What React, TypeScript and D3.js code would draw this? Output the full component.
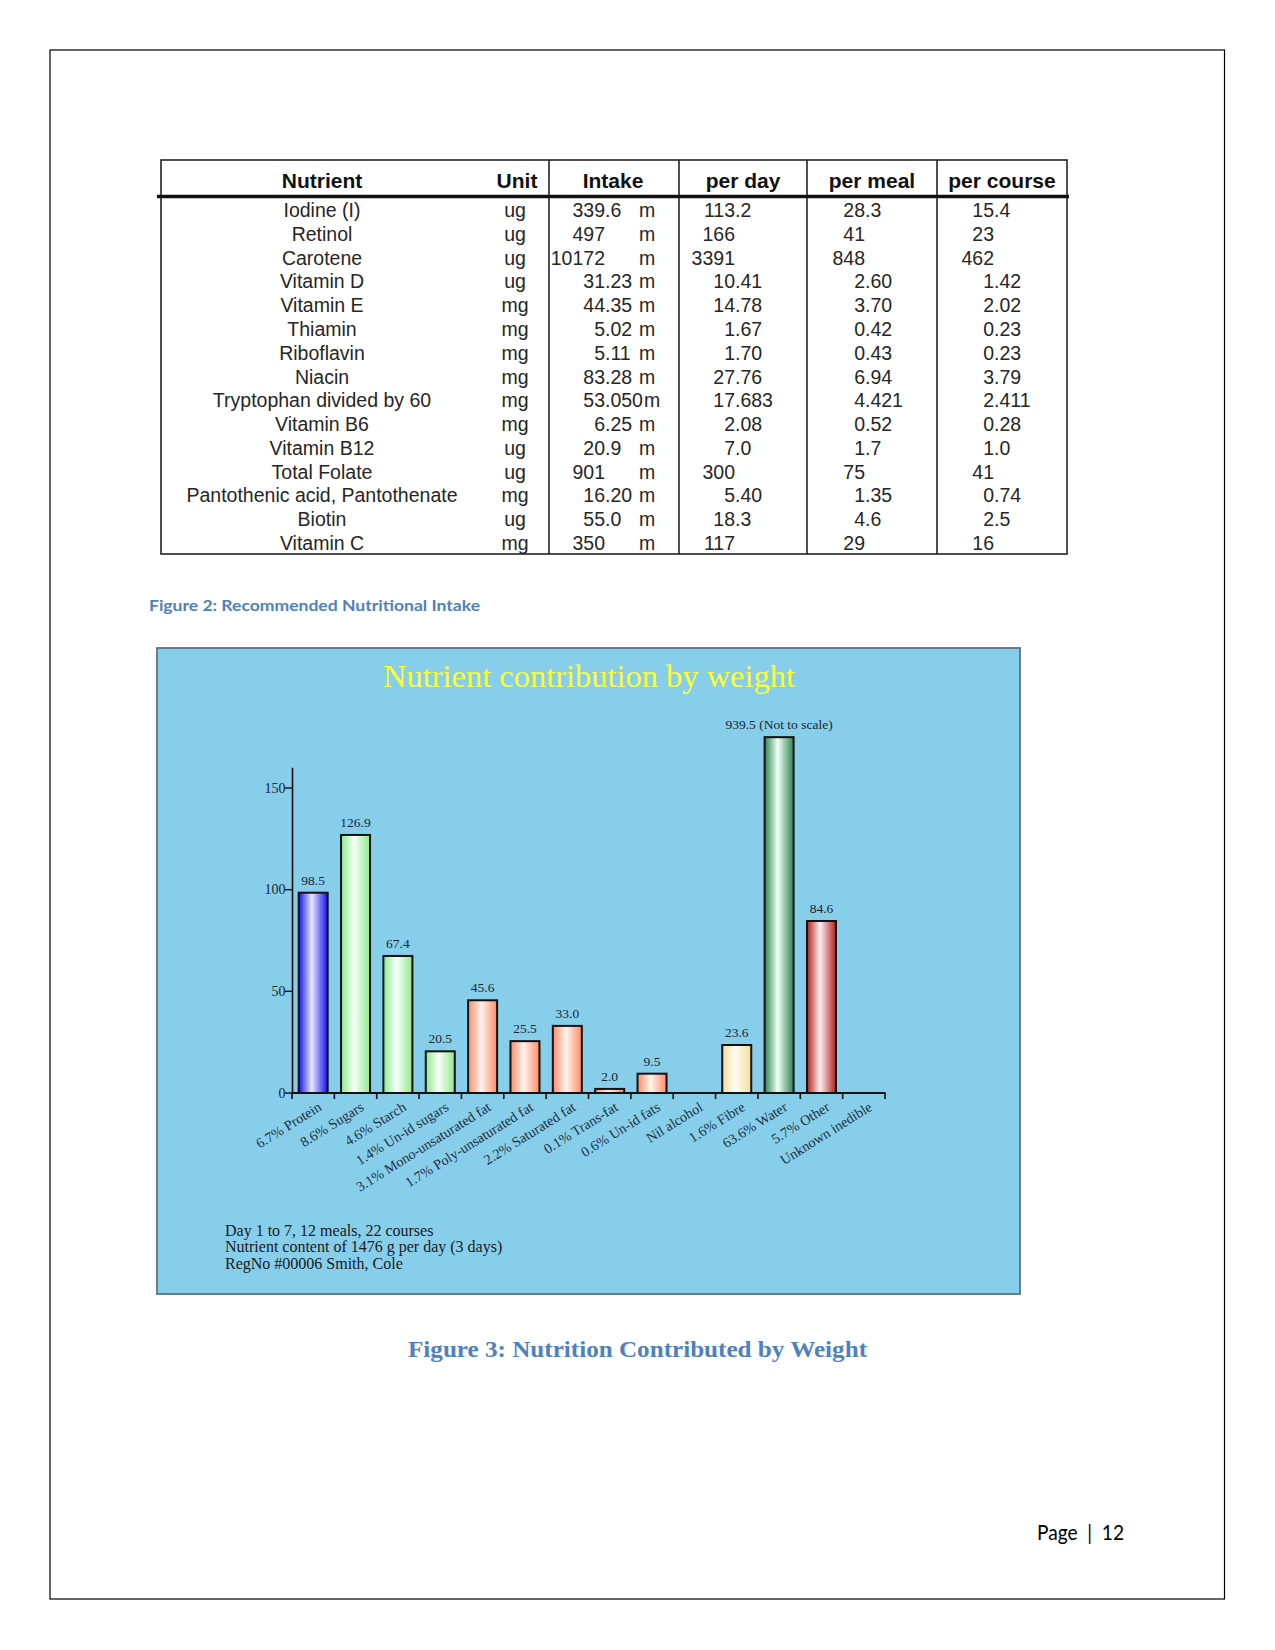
import React from "react";
import * as d3 from "d3";

// ---------- Table data ----------
const tableHeaders = ["Nutrient", "Unit", "Intake", "per day", "per meal", "per course"];
const nutrients = [
  "Iodine (I)", "Retinol", "Carotene", "Vitamin D", "Vitamin E", "Thiamin", "Riboflavin", "Niacin",
  "Tryptophan divided by 60", "Vitamin B6", "Vitamin B12", "Total Folate",
  "Pantothenic acid, Pantothenate", "Biotin", "Vitamin C",
];
const units = ["ug", "ug", "ug", "ug", "mg", "mg", "mg", "mg", "mg", "mg", "ug", "ug", "mg", "ug", "mg"];
const intake = ["339.6", "497", "10172", "31.23", "44.35", "5.02", "5.11", "83.28", "53.050", "6.25", "20.9", "901", "16.20", "55.0", "350"];
const perDay = ["113.2", "166", "3391", "10.41", "14.78", "1.67", "1.70", "27.76", "17.683", "2.08", "7.0", "300", "5.40", "18.3", "117"];
const perMeal = ["28.3", "41", "848", "2.60", "3.70", "0.42", "0.43", "6.94", "4.421", "0.52", "1.7", "75", "1.35", "4.6", "29"];
const perCourse = ["15.4", "23", "462", "1.42", "2.02", "0.23", "0.23", "3.79", "2.411", "0.28", "1.0", "41", "0.74", "2.5", "16"];
const intakeSuffix = "m";

// ---------- Chart data ----------
const chartTitle = "Nutrient contribution by weight";
const categories = [
  "6.7% Protein", "8.6% Sugars", "4.6% Starch", "1.4% Un-id sugars", "3.1% Mono-unsaturated fat",
  "1.7% Poly-unsaturated fat", "2.2% Saturated fat", "0.1% Trans-fat", "0.6% Un-id fats",
  "Nil alcohol", "1.6% Fibre", "63.6% Water", "5.7% Other", "Unknown inedible",
];
const weights: (number | null)[] = [98.5, 126.9, 67.4, 20.5, 45.6, 25.5, 33.0, 2.0, 9.5, null, 23.6, 939.5, 84.6, null];
const groups = ["protein", "carb", "carb", "carb", "fat", "fat", "fat", "fat", "fat", "alcohol", "fibre", "water", "other", "inedible"];
const notToScale = [false, false, false, false, false, false, false, false, false, false, false, true, false, false];
const notToScaleDrawnValue = 175;
const yTicks = [0, 50, 100, 150];
const yAxisMax = 160;
const footnotes = [
  "Day 1 to 7, 12 meals, 22 courses",
  "Nutrient content of 1476 g per day (3 days)",
  "RegNo #00006 Smith, Cole",
];
const fig2Caption = "Figure 2: Recommended Nutritional Intake";
const fig3Caption = "Figure 3: Nutrition Contributed by Weight";
const pageLabel = "Page  |  12";

// ---------- Styles ----------
const SANS = "'Liberation Sans', Arial, sans-serif";
const SERIF = "'Liberation Serif', 'Times New Roman', serif";
const groupColors: Record<string, [string, string]> = {
  protein: ["#1010f0", "#e8e8ff"],
  carb: ["#8ee88e", "#f6fff6"],
  fat: ["#ff8a66", "#fff4ee"],
  fibre: ["#f2dc9c", "#fffdf4"],
  water: ["#2b8552", "#f2fff6"],
  other: ["#ad2020", "#fff0f0"],
  alcohol: ["#cccccc", "#ffffff"],
  inedible: ["#cccccc", "#ffffff"],
};

function DecCell({ value, decX, y }: { value: string; decX: number; y: number }) {
  const [ip, fp] = value.split(".");
  return (
    <>
      <text x={decX} y={y} textAnchor="end">{ip}</text>
      {fp !== undefined && <text x={decX} y={y} textAnchor="start">.{fp}</text>}
    </>
  );
}

export default function App() {
  // Table geometry
  const tL = 161, tR = 1067, tT = 160, tB = 554, headLine = 196.5;
  const colSeps = [549, 679, 807, 937];
  const fs = 19.5;
  const rowY = d3.scaleLinear().domain([0, 14]).range([217, 550]);
  const headerX = [322, 517, 613, 743, 872, 1002];
  const decIntake = 605, decDay = 735, decMeal = 865, decCourse = 994;
  const digitW = 0.556 * fs, dotW = 0.278 * fs;

  // Chart geometry
  const x = d3.scaleBand<string>().domain(categories).range([292, 885]).paddingInner(0).paddingOuter(0);
  const y = d3.scaleLinear().domain([0, 150]).range([1093, 788]);
  const barW = 29;
  const tickPositions = [...categories.map((c) => x(c) as number), 885];

  return (
    <svg width={1275} height={1650} style={{ position: "absolute", left: 0, top: 0, background: "#fff" }}>
      <defs>
        {Object.entries(groupColors).map(([k, [dark, light]]) => (
          <linearGradient key={k} id={`g-${k}`} x1="0" x2="1" y1="0" y2="0">
            <stop offset="0" stopColor={dark} />
            <stop offset="0.45" stopColor={light} />
            <stop offset="1" stopColor={dark} />
          </linearGradient>
        ))}
      </defs>

      {/* Page border */}
      <rect x={50} y={50} width={1174.5} height={1549} fill="none" stroke="#000" strokeWidth={1.2} />

      {/* ---------- Table ---------- */}
      <g fontFamily={SANS}>
        <rect x={tL} y={tT} width={tR - tL} height={tB - tT} fill="none" stroke="#222" strokeWidth={1.6} />
        {colSeps.map((cx) => (
          <line key={cx} x1={cx} x2={cx} y1={tT} y2={tB} stroke="#222" strokeWidth={1.6} />
        ))}
        <line x1={157} x2={1069} y1={headLine} y2={headLine} stroke="#111" strokeWidth={3.6} />
        {tableHeaders.map((h, i) => (
          <text key={h} x={headerX[i]} y={187.5} textAnchor="middle" fontWeight="bold" fontSize={21} fill="#111">{h}</text>
        ))}
        <g fontSize={fs} fill="#262626">
          {nutrients.map((n, i) => {
            const yy = rowY(i);
            const frac = intake[i].split(".")[1];
            const fracEnd = decIntake + (frac ? dotW + frac.length * digitW : 0);
            const mX = Math.max(639, fracEnd + 1);
            return (
              <g key={n}>
                <text x={322} y={yy} textAnchor="middle">{n}</text>
                <text x={515} y={yy} textAnchor="middle">{units[i]}</text>
                <DecCell value={intake[i]} decX={decIntake} y={yy} />
                <text x={mX} y={yy}>{intakeSuffix}</text>
                <DecCell value={perDay[i]} decX={decDay} y={yy} />
                <DecCell value={perMeal[i]} decX={decMeal} y={yy} />
                <DecCell value={perCourse[i]} decX={decCourse} y={yy} />
              </g>
            );
          })}
        </g>
      </g>

      {/* Figure 2 caption */}
      <text x={149} y={611} fontFamily="Lato, 'Open Sans', sans-serif" fontWeight="bold" fontSize={16} fill="#4f81bd"
        textLength={331} lengthAdjust="spacingAndGlyphs">{fig2Caption}</text>

      {/* ---------- Chart ---------- */}
      <rect x={157} y={648} width={863} height={646} fill="#87ceeb" stroke="#5c7282" strokeWidth={1.8} />
      <text x={589} y={687} textAnchor="middle" fontFamily={SERIF} fontSize={32} fill="#ffff2e"
        textLength={412} lengthAdjust="spacingAndGlyphs">{chartTitle}</text>

      {/* Y axis */}
      <g fontFamily={SERIF} fontSize={14} fill="#1a2530">
        <line x1={292.5} x2={292.5} y1={y(yAxisMax)} y2={y(0)} stroke="#111" strokeWidth={1.6} />
        {yTicks.map((t) => (
          <g key={t}>
            <line x1={285} x2={292.5} y1={y(t)} y2={y(t)} stroke="#111" strokeWidth={1.4} />
            <text x={285.5} y={y(t) + 4.8} textAnchor="end">{t}</text>
          </g>
        ))}
      </g>

      {/* Bars */}
      {categories.map((c, i) => {
        const v = weights[i];
        if (v === null) return null;
        const drawn = notToScale[i] ? notToScaleDrawnValue : v;
        const cx = (x(c) as number) + x.bandwidth() / 2;
        const top = y(drawn);
        const label = notToScale[i] ? `${v.toFixed(1)} (Not to scale)` : v.toFixed(1);
        return (
          <g key={c}>
            <rect x={cx - barW / 2} y={top} width={barW} height={y(0) - top} fill={`url(#g-${groups[i]})`}
              stroke="#111" strokeWidth={2} />
            <text x={cx} y={top - 8} textAnchor="middle" fontFamily={SERIF} fontSize={13.5} fill="#1a2530">{label}</text>
          </g>
        );
      })}

      {/* X axis */}
      <line x1={292} x2={885.5} y1={y(0)} y2={y(0)} stroke="#111" strokeWidth={1.8} />
      {tickPositions.map((tx, i) => (
        <line key={i} x1={tx} x2={tx} y1={y(0)} y2={y(0) + 6} stroke="#111" strokeWidth={1.6} />
      ))}
      {categories.map((c) => {
        const cx = (x(c) as number) + x.bandwidth() / 2;
        return (
          <text key={c} transform={`translate(${cx + 4},${y(0) + 8}) rotate(-32)`} textAnchor="end" dy="0.71em"
            fontFamily={SERIF} fontSize={14.2} fill="#1e3142">{c}</text>
        );
      })}

      {/* Footnotes */}
      {footnotes.map((f, i) => (
        <text key={f} x={225} y={1236 + i * 16.3} fontFamily={SERIF} fontSize={16} fill="#1a1a1a">{f}</text>
      ))}

      {/* Figure 3 caption */}
      <text x={637.5} y={1357} textAnchor="middle" fontFamily={SERIF} fontWeight="bold" fontSize={23} fill="#4f81bd"
        textLength={459} lengthAdjust="spacingAndGlyphs">{fig3Caption}</text>

      {/* Page number */}
      <text x={1037} y={1540} fontFamily="Lato, 'Open Sans', sans-serif" fontSize={20.5} fill="#000"
        textLength={87} lengthAdjust="spacingAndGlyphs" xmlSpace="preserve">{pageLabel}</text>
    </svg>
  );
}
